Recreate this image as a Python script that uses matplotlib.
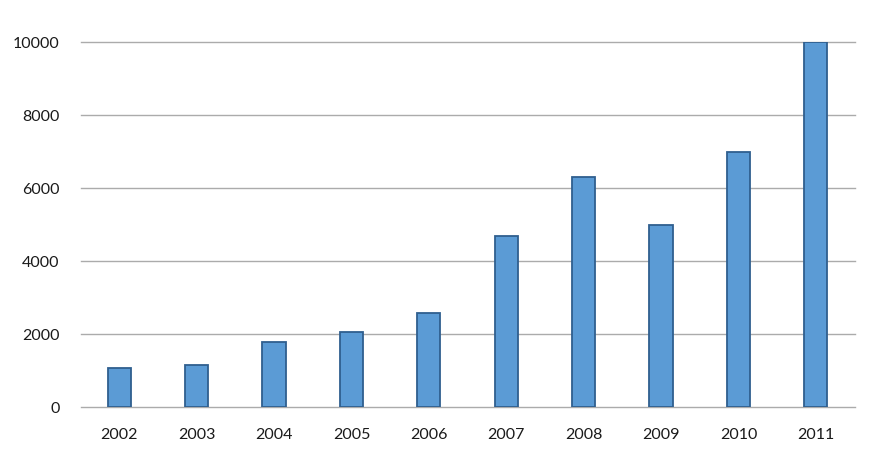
import numpy as np
import matplotlib
matplotlib.use('Agg')
from matplotlib import pyplot as plt

years = ['2002', '2003', '2004', '2005', '2006', '2007', '2008', '2009', '2010', '2011']
values = [1080, 1170, 1780, 2080, 2590, 4690, 6300, 4990, 7000, 10000]
yticks = [0, 2000, 4000, 6000, 8000, 10000]

plt.rcParams['font.family'] = ['Lato', 'DejaVu Sans']

fig = plt.figure(figsize=(8.72, 4.63), dpi=100)
ax = fig.add_axes([0.0924, 0.1199, 0.8876, 0.7888])

x = np.arange(len(years))
ax.bar(x, values, width=0.30, color='#5b9bd5', edgecolor='#2f5f8f', linewidth=1.3, zorder=3)

ax.set_xlim(-0.5, len(years) - 0.5)
ax.set_ylim(0, 10000)
ax.set_yticks(yticks)
ax.set_yticklabels([str(v) for v in yticks])
ax.set_xticks(x)
ax.set_xticklabels(years)

for v in yticks:
    ax.axhline(v, color='#ababab', linewidth=1.0, zorder=1, clip_on=False)

for s in ax.spines.values():
    s.set_visible(False)
ax.tick_params(axis='both', length=0, labelsize=11.5, colors='#1a1a1a')
ax.tick_params(axis='y', pad=15)
ax.tick_params(axis='x', pad=15)

fig.savefig('out.png', dpi=100)
